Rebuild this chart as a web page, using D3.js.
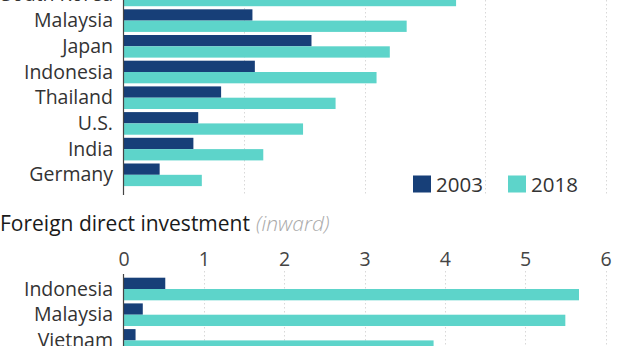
<!DOCTYPE html>
<html><head><meta charset="utf-8">
<script src="https://cdn.jsdelivr.net/npm/d3@7"></script>
<style>
html,body{margin:0;padding:0;background:#fff;}
svg{display:block;font-family:"Open Sans","Noto Sans",sans-serif;}
</style></head>
<body><svg id="c" width="618" height="346"></svg>
<script>
// ---- data ----
const seriesKeys = ["2003", "2018"];
const topCountries = ["South Korea","Malaysia","Japan","Indonesia","Thailand","U.S.","India","Germany"];
const top2003 = [null, 1.07, 1.56, 1.09, 0.81, 0.62, 0.58, 0.30];
const top2018 = [2.76, 2.35, 2.21, 2.10, 1.76, 1.49, 1.16, 0.65];
const topTicks = [0, 1, 2, 3, 4];

const fdiTitle = "Foreign direct investment";
const fdiNote = "(inward)";
const fdiCountries = ["Indonesia","Malaysia","Vietnam"];
const fdi2003 = [0.52, 0.24, 0.15];
const fdi2018 = [5.67, 5.50, 3.86];
const fdiTicks = [0, 1, 2, 3, 4, 5, 6];

const colors = {"2003": "#173f78", "2018": "#5dd4ca"};

// ---- drawing ----
const svg = d3.select("#c");
const x0 = 123.5, x1 = 605.5;
const step = 25.7, pIn = 0.12;

function panel(countries, v03, v18, domainMax, ticks, yStart, gridTop, gridBottom, axisTop, axisBottom, showTickLabels, tickY) {
  const g = svg.append("g");
  const x = d3.scaleLinear().domain([0, domainMax]).range([x0, x1]);
  const y = d3.scaleBand().domain(countries).paddingInner(pIn).paddingOuter(0)
    .range([yStart, yStart + step * (countries.length - pIn)]);
  const ys = d3.scaleBand().domain(seriesKeys).range([0, y.bandwidth()]);
  // gridlines
  g.append("g").selectAll("line").data(ticks.filter(t => t > 0)).join("line")
    .attr("x1", d => Math.round(x(d)) + 0.5).attr("x2", d => Math.round(x(d)) + 0.5)
    .attr("y1", gridTop).attr("y2", gridBottom)
    .attr("stroke", "#d8d8d8").attr("stroke-width", 1).attr("stroke-dasharray", "1.5,2.5");
  if (showTickLabels) {
    const ax = d3.axisTop(x).tickValues(ticks).tickSize(0).tickPadding(0).tickFormat(d3.format("d"));
    const a = g.append("g").attr("transform", `translate(0,${tickY})`).call(ax);
    a.select(".domain").remove();
    a.selectAll("text").attr("font-size", 19.5).attr("fill", "#444")
      .attr("font-family", "'Open Sans','Noto Sans',sans-serif").attr("dy", 0);
  }
  const rows = countries.map((c, i) => ({c, v: {"2003": v03[i], "2018": v18[i]}}));
  const rg = g.selectAll("g.row").data(rows).join("g").attr("class", "row")
    .attr("transform", d => `translate(0,${y(d.c)})`);
  rg.selectAll("rect").data(d => seriesKeys.filter(k => d.v[k] != null).map(k => ({k, v: d.v[k]})))
    .join("rect")
    .attr("x", x(0)).attr("y", d => ys(d.k))
    .attr("width", d => x(d.v) - x(0)).attr("height", ys.bandwidth())
    .attr("fill", d => colors[d.k]);
  rg.append("text").attr("x", 113).attr("y", ys.bandwidth() + 6.5)
    .attr("text-anchor", "end").attr("font-size", 19.5).attr("fill", "#333")
    .text(d => d.c);
  // axis line
  g.append("line").attr("x1", x0).attr("x2", x0).attr("y1", axisTop).attr("y2", axisBottom)
    .attr("stroke", "#444").attr("stroke-width", 1.2);
}

panel(topCountries, top2003, top2018, 4, topTicks, 9.3 - step, 0, 196, 0, 195, false, 0);
panel(fdiCountries, fdi2003, fdi2018, 6, fdiTicks, 277.7, 271, 346, 274, 346, true, 265.5);

// title
const t = svg.append("text").attr("x", 0).attr("y", 231).attr("font-size", 21).attr("fill", "#1a1a1a");
t.append("tspan").text(fdiTitle);
t.append("tspan").attr("dx", 6).attr("fill", "#aaa").attr("font-style", "italic").attr("font-weight", 300).text(fdiNote);

// legend
const lg = svg.append("g");
const legendX = [413, 508];
seriesKeys.forEach((k, i) => {
  lg.append("rect").attr("x", legendX[i]).attr("y", 175.5).attr("width", 18).attr("height", 17).attr("fill", colors[k]);
  lg.append("text").attr("x", legendX[i] + 23).attr("y", 191.5).attr("font-size", 20.5).attr("fill", "#333").text(k);
});
</script></body></html>
